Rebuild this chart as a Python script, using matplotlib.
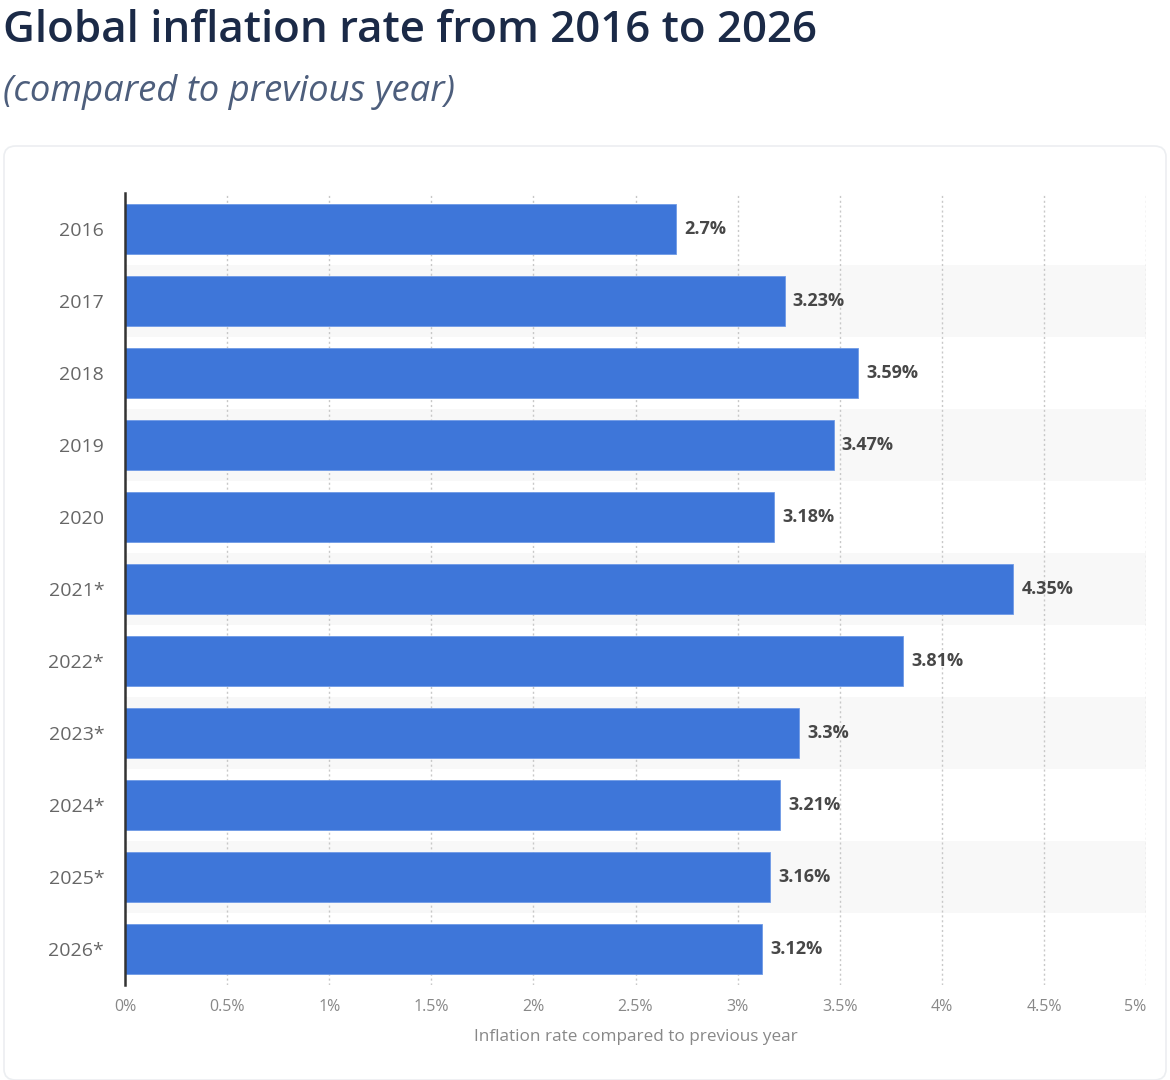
import matplotlib
matplotlib.use("Agg")
import matplotlib.pyplot as plt
from matplotlib.patches import FancyBboxPatch

years = ["2016", "2017", "2018", "2019", "2020", "2021*", "2022*", "2023*", "2024*", "2025*", "2026*"]
rates = [2.7, 3.23, 3.59, 3.47, 3.18, 4.35, 3.81, 3.3, 3.21, 3.16, 3.12]
value_labels = ["2.7%", "3.23%", "3.59%", "3.47%", "3.18%", "4.35%", "3.81%", "3.3%", "3.21%", "3.16%", "3.12%"]
x_ticks = [0, 0.5, 1, 1.5, 2, 2.5, 3, 3.5, 4, 4.5, 5]
x_tick_labels = ["0%", "0.5%", "1%", "1.5%", "2%", "2.5%", "3%", "3.5%", "4%", "4.5%", "5%"]

plt.rcParams['font.family'] = ['Open Sans', 'DejaVu Sans']

fig = plt.figure(figsize=(11.7, 10.8), dpi=100)
fig.patch.set_facecolor('white')

# card background
card = FancyBboxPatch((4/1170, 0.0), 1-8/1170, 1-146/1080, boxstyle="round,pad=0,rounding_size=0.01",
                      transform=fig.transFigure, facecolor='white', edgecolor='#eceef1', linewidth=1.2, zorder=-10)
fig.patches.append(card)

fig.text(3/1170, 1-30/1080, "Global inflation rate from 2016 to 2026", fontsize=31.6, fontweight='semibold',
         color='#1b2a47', ha='left', va='center')
fig.text(3/1170, 1-92/1080, "(compared to previous year)", fontsize=26.2, style='italic',
         color='#4d5e7c', ha='left', va='center')

ax = fig.add_axes([125/1170, 1-985/1080, (1146-125)/1170, (985-193)/1080])
ax.set_zorder(5)
ax.set_facecolor('none')
ypos = list(range(len(years)))

for i in ypos:
    if i % 2 == 1:
        ax.axhspan(i-0.5, i+0.5, xmin=0, xmax=1.002, color='#f8f8f8', zorder=0, lw=0)

ax.barh(ypos, rates, height=0.69, color='#3e76d9', zorder=3, edgecolor='#6f9ae6', linewidth=0.6)
for i, (r, lab) in enumerate(zip(rates, value_labels)):
    ax.text(r + 0.04, i, lab, va='center', ha='left', fontsize=13, fontweight='bold', color='#474747', zorder=4)

ax.set_xlim(0, 5)
ax.set_ylim(len(years)-0.5, -0.5)
ax.set_yticks(ypos)
ax.set_yticklabels(years)
ax.set_xticks(x_ticks)
ax.set_xticklabels(x_tick_labels)
plt.setp(ax.get_xticklabels()[-1], ha='right')
ax.grid(axis='x', color='#c8c8c8', linestyle=(0, (1.5, 2)), linewidth=1, zorder=1)
ax.set_axisbelow(True)

for s in ['top', 'right', 'bottom']:
    ax.spines[s].set_visible(False)
ax.spines['left'].set_color('#333333')
ax.spines['left'].set_linewidth(1.8)
ax.spines['left'].set_zorder(5)

ax.tick_params(axis='y', length=0, pad=15, labelsize=14, labelcolor='#666666')
ax.tick_params(axis='x', length=0, pad=10, labelsize=11.5, labelcolor='#888888')
ax.set_xlabel("Inflation rate compared to previous year", fontsize=12.3, color='#888888', labelpad=10)

fig.savefig("out.png", dpi=100, facecolor='white')
